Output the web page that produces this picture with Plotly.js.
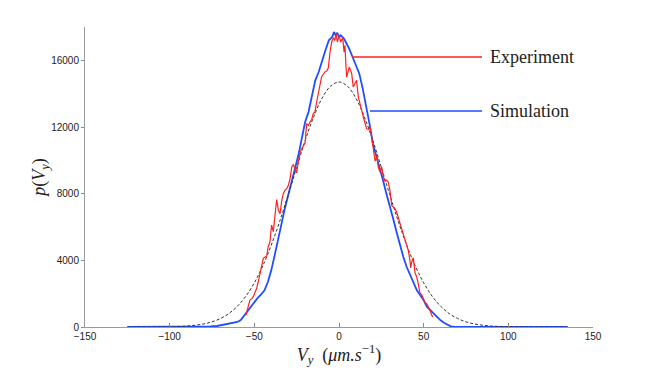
<!DOCTYPE html>
<html>
<head>
<meta charset="utf-8">
<script src="https://cdn.plot.ly/plotly-3.0.1.min.js"></script>
<style>html,body{margin:0;padding:0;background:#fff;}#chart{width:654px;height:371px;}</style>
</head>
<body>
<div id="chart"></div>
<script>
// Simulation (blue)
const simX = [-125,-110,-95,-85,-78,-76,-72,-70,-68,-66,-64,-62,-60,-58,-56,-54,-52,-50,-48,-46,-44,-42,-40,-38,-36,-34,-32,-30,-28,-26,-24,-22,-20,-18,-16,-14,-12,-10,-8,-6,-4,-3,-2,-1,0,1,2,3,4,6,8,10,12,14,16,18,20,22,24,26,28,30,32,34,36,38,40,42,44,46,48,50,52,54,56,58,60,62,64,66,68,72,80,95,110,125,135];
const simY = [0,0,0,10,15,30,60,100,140,170,200,240,300,420,700,960,1200,1500,1750,1950,2200,2700,3400,4300,5300,6300,7100,7900,8700,9500,10300,11300,12300,12900,13900,14800,15300,16000,16600,17200,17400,17700,17500,17650,17400,17500,17400,17300,17100,16700,16200,15700,15200,14300,13300,12200,11000,10300,9500,8800,8000,7300,6500,5700,4900,4200,3600,3100,2700,2200,1900,1600,1200,1000,800,550,400,250,120,40,20,15,10,0,0,0,0];

// Experiment (red)
const expX = [-55.0,-54.5,-53.5,-52.6,-51.5,-50.6,-49.5,-48.6,-47.5,-46.7,-45.5,-44.7,-43.7,-42.7,-41.8,-40.8,-39.8,-38.8,-37.8,-36.8,-35.8,-34.8,-33.8,-32.9,-31.9,-30.9,-29.9,-28.9,-27.9,-27.0,-26.0,-25.0,-24.0,-23.0,-22.0,-21.0,-20.0,-19.1,-18.1,-17.1,-16.1,-15.2,-14.2,-13.2,-12.2,-11.2,-10.3,-9.3,-8.3,-7.3,-6.3,-5.3,-4.3,-3.3,-2.4,-1.8,-1.0,-0.4,0.2,1.0,1.6,2.2,3.0,3.5,4.1,4.5,5.3,6.1,6.8,7.5,8.4,9.4,10.4,11.4,12.4,13.4,14.4,15.4,16.3,17.3,18.3,19.3,20.3,21.3,22.3,23.2,24.2,25.2,26.2,27.2,28.2,29.1,30.1,31.1,32.1,33.1,34.0,35.0,36.0,37.0,38.0,39.0,40.0,40.9,41.9,42.3,43.0,43.9,44.9,45.9,46.8,47.8,48.8,49.8,50.8,51.8,52.7,53.7,54.7,55.5];
const expY = [700,920,1300,1620,1700,1820,2100,2320,2800,3220,3800,4120,4200,4250,4820,5100,6120,5720,6700,7650,7000,6800,7600,8000,8200,8300,8500,8900,9600,9750,9500,9250,9900,10450,10700,10900,11050,12200,12100,12300,12450,12800,12900,13500,14100,14500,15000,15150,15300,15350,15550,16500,17100,17350,17200,17650,17100,17300,17450,17100,17200,17350,16500,16900,15700,15000,15300,15600,15400,15200,14400,14600,14800,13800,13300,13000,12600,12300,11900,11850,12000,11400,10800,9950,10250,9600,9300,9600,9000,8750,8800,8700,8200,7300,7200,7100,6900,6550,6150,5850,5600,5200,4800,4600,4000,3550,3900,4150,3250,3000,2600,2050,1950,1720,1450,1400,1220,1020,720,600];

// Gaussian fit (dashed)
const fitX = [-125,-120,-110,-105,-100,-95,-90,-85,-80,-75,-70,-65,-60,-55,-50,-45,-40,-35,-30,-25,-20,-15,-10,-5,0,5,10,15,20,25,30,35,40,45,50,55,60,65,70,75,80,85,90,95,100,105,110,120,125,135];
const fitY = [0,1,3,7,15,30,57,104,182,310,510,810,1250,1850,2650,3670,4910,6340,7930,9580,11180,12600,13730,14450,14700,14450,13730,12600,11180,9580,7930,6340,4910,3670,2650,1850,1250,810,510,310,182,104,57,30,15,7,3,1,0,0];

const xTicks = [-150,-100,-50,0,50,100,150];
const yTicks = [0,4000,8000,12000,16000];
const labels = ["Experiment","Simulation"];
const labelY = [16200,12960];
const labelStartX = [7.7,18.3];
const labelEndX = 84.5;
const labelTextX = 88;
const colors = ["#ff1f1f","#1f4dff"];

const traces = [
  {x: simX, y: simY, mode: "lines", line: {color: colors[1], width: 1.8}, hoverinfo: "skip"},
  {x: fitX, y: fitY, mode: "lines", line: {color: "#333", width: 1, dash: "3px,2px", shape: "spline"}, hoverinfo: "skip"},
  {x: expX, y: expY, mode: "lines", line: {color: colors[0], width: 1.2}, hoverinfo: "skip"}
];

const serif = "Liberation Serif, Times New Roman, serif";
const layout = {
  width: 654, height: 371,
  margin: {l: 85, r: 61, t: 27, b: 44},
  paper_bgcolor: "#fff", plot_bgcolor: "#fff",
  showlegend: false,
  font: {family: "Liberation Sans, Arial, sans-serif", size: 10, color: "#222"},
  xaxis: {
    range: [-150, 150], tickvals: xTicks, ticks: "inside", ticklen: 4, tickcolor: "#888",
    showline: true, linecolor: "#999", linewidth: 1, showgrid: false, zeroline: false,
    automargin: false, tickfont: {size: 10, color: "#222"},
    title: {text: "<i>V<sub>y</sub></i>  (<i>μm.s</i><sup>−1</sup>)", font: {family: serif, size: 18, color: "#222"}, standoff: 4}
  },
  yaxis: {
    range: [0, 18000], tickvals: yTicks, tickformat: "d", ticks: "outside", ticklen: 3, tickcolor: "#888",
    showline: true, linecolor: "#999", linewidth: 1, showgrid: false, zeroline: false,
    automargin: false, tickfont: {size: 10, color: "#222"},
    title: {text: "<i>p</i>(<i>V<sub>y</sub></i>)", font: {family: serif, size: 18, color: "#222"}, standoff: 0}
  },
  shapes: labels.map((l, i) => ({type: "line", xref: "x", yref: "y", x0: labelStartX[i], x1: labelEndX, y0: labelY[i], y1: labelY[i], line: {color: colors[i], width: 1.5}})),
  annotations: labels.map((l, i) => ({text: l, x: labelTextX, y: labelY[i], xref: "x", yref: "y", xanchor: "left", yanchor: "middle", showarrow: false, font: {family: serif, size: 18, color: "#222"}}))
};

Plotly.newPlot("chart", traces, layout, {displayModeBar: false, staticPlot: true});
</script>
</body>
</html>
